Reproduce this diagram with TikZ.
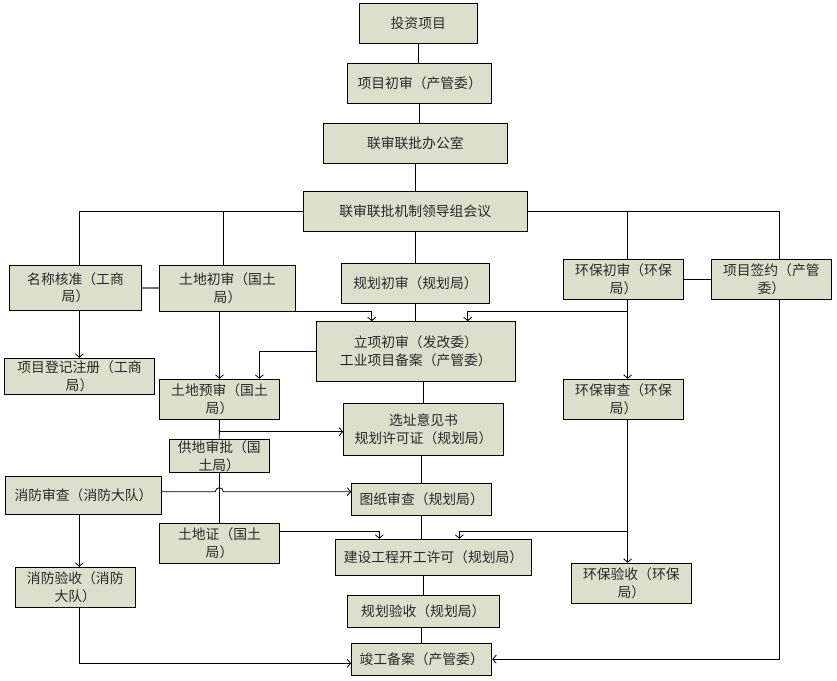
\documentclass[tikz,border=0pt]{standalone}
\usepackage{fontspec}
\setmainfont{Noto Sans CJK SC}
\usetikzlibrary{arrows.meta}
\definecolor{boxfill}{RGB}{221,223,205}
\definecolor{txt}{RGB}{40,40,40}
\tikzset{
  box/.style={draw=black, line width=1pt, fill=boxfill, inner sep=0pt, align=center,
    font=\fontsize{13.8pt}{17.5pt}\selectfont, text=txt},
  ln/.style={line width=0.8pt, draw=black},
  arr/.style={ln, -{Straight Barb[length=3.5pt,width=8pt]}},
}
\newcommand{\bx}[6]{\node[box, minimum width=#4pt, minimum height=#5pt] (#1) at (#2,#3) {#6};}
\begin{document}
\begin{tikzpicture}[x=1pt,y=-1pt]
\useasboundingbox[fill=white] (0,0) rectangle (837,680);
% boxes
\bx{inv}{418.25}{23.3}{117.5}{40}{投资项目}
\bx{pre}{419.7}{83.3}{144}{40}{项目初审（产管委）}
\bx{off}{415.3}{143.3}{184}{40}{联审联批办公室}
\bx{meet}{415.2}{211.7}{224.3}{40}{联审联批机制领导组会议}
\bx{name}{75.5}{287.7}{132.4}{44.7}{名称核准（工商\\局）}
\bx{landa}{227.5}{288.3}{135.6}{46}{土地初审（国土\\局）}
\bx{plana}{415.5}{283.3}{147.6}{40}{规划初审（规划局）}
\bx{enva}{623.5}{279.3}{120.4}{40}{环保初审（环保\\局）}
\bx{sign}{771.3}{279.3}{120}{40}{项目签约（产管\\委）}
\bx{proj}{415.85}{351.35}{199.7}{59.3}{立项初审（发改委）\\工业项目备案（产管委）}
\bx{reg}{79.5}{376.3}{149.6}{36}{项目登记注册（工商\\局）}
\bx{landb}{219.5}{399.3}{119.6}{40}{土地预审（国土\\局）}
\bx{envb}{623.5}{399.3}{120.4}{40}{环保审查（环保\\局）}
\bx{site}{423.5}{429.5}{159.6}{52.4}{选址意见书\\规划许可证（规划局）}
\bx{supply}{219.3}{456}{100}{33.4}{供地审批（国\\土局）}
\bx{firea}{83.5}{495.35}{156.4}{37.3}{消防审查（消防大队）}
\bx{drw}{421.7}{499.3}{140}{32}{图纸审查（规划局）}
\bx{landc}{219.5}{543.3}{119.6}{40}{土地证（国土\\局）}
\bx{build}{433.5}{557.3}{196.4}{36}{建设工程开工许可（规划局）}
\bx{envc}{631.3}{583.3}{120}{40}{环保验收（环保\\局）}
\bx{fireb}{75.3}{587.3}{120}{40}{消防验收（消防\\大队）}
\bx{acc}{423.3}{611.3}{152}{32}{规划验收（规划局）}
\bx{done}{421.7}{659.2}{140}{31.7}{竣工备案（产管委）}
% junctions
\coordinate (jenv1) at (627.7,311.7);
\coordinate (jland) at (219.3,431.7);
\coordinate (hopa) at (215.3,491.7);
\coordinate (jenv2) at (627.7,531);
% top chain
\draw[ln] (inv.south) -- (inv.south |- pre.north);
\draw[ln] (pre.south) -- (pre.south |- off.north);
\draw[ln] (off.south) -- (off.south |- meet.north);
\draw[ln] (meet.south) -- (meet.south |- plana.north);
% meeting branches
\draw[ln] (meet.west) -| ([xshift=3.8pt]name.north);
\draw[ln] ([xshift=-4.2pt]landa.north) |- (meet.west);
\draw[ln] (meet.east) -| ([xshift=8pt]sign.north);
\draw[ln] ([xshift=4.2pt]enva.north) |- (meet.east);
% side links
\draw[line width=2pt, draw=black!55] (name.east) -- (name.east -| landa.west);
\draw[ln] (enva.east) -- (sign.west);
% arrows row 2
\draw[arr] ([xshift=3.8pt]name.south) -- ([xshift=3.8pt]name.south |- reg.north);
\draw[arr] (landb.north |- landa.south) -- (landb.north);
\draw[arr] (landa.south east) -| ([xshift=-44.15pt]proj.north);
\draw[ln] (plana.south) -- (plana.south |- proj.north);
\draw[arr] ([xshift=4.2pt]enva.south) -- ([xshift=4.2pt]envb.north);
\draw[arr] (jenv1) -| ([xshift=51.85pt]proj.north);
\draw[arr] (proj.west) -| ([xshift=39.8pt]landb.north);
\draw[ln] (site.north |- proj.south) -- (site.north);
% land chain
\draw[ln] (landb.south) -- (supply.north);
\draw[arr] (jland) -- (site.west |- jland);
\draw[ln] (supply.south) -- (supply.south |- landc.north);
\draw[arr] ([yshift=3.65pt]firea.east) -- (hopa) arc[start angle=180, end angle=0, radius=4pt] -- ([yshift=7.6pt]drw.west);
\draw[ln] (drw.north |- site.south) -- (drw.north);
\draw[ln] (drw.south) -- (drw.south |- build.north);
\draw[arr] ([yshift=12.3pt]landc.east) -| ([xshift=-54.2pt]build.north);
\draw[arr] (jenv2) -| ([xshift=25.8pt]build.north);
\draw[arr] ([xshift=4.2pt]envb.south) -- ([xshift=4.2pt]envb.south |- envc.north);
\draw[arr] ([xshift=-4.2pt]firea.south) -- ([xshift=-4.2pt]firea.south |- fireb.north);
\draw[arr] ([xshift=4pt]fireb.south) |- ([yshift=-4.1pt]done.west);
\draw[ln] (acc.north |- build.south) -- (acc.north);
\draw[ln] (done.north |- acc.south) -- (done.north);
\draw[arr] ([xshift=8pt]sign.south) |- (done.east);
\end{tikzpicture}
\end{document}
